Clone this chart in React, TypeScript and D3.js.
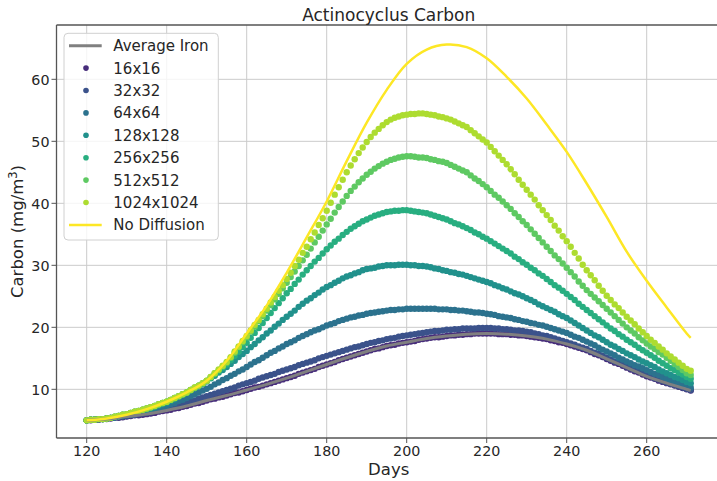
import React from "react";
import * as d3 from "d3";

// ---------- data ----------
const seriesNames = ["16x16", "32x32", "64x64", "128x128", "256x256", "512x512", "1024x1024"];
const xTicks = [120, 140, 160, 180, 200, 220, 240, 260];
const yTicks = [10, 20, 30, 40, 50, 60];

// daily samples, day 120 .. 271
const s16 = [
  5.0, 5.0, 5.1, 5.1, 5.2, 5.2, 5.3, 5.4, 5.4, 5.5, 5.6, 5.7, 5.8, 5.8, 5.9, 6.0, 6.1, 6.2, 6.4, 6.5,
  6.6, 6.7, 6.9, 7.0, 7.2, 7.3, 7.5, 7.7, 7.8, 8.0, 8.2, 8.4, 8.5, 8.7, 8.8, 9.0, 9.2, 9.4, 9.5, 9.7,
  9.9, 10.1, 10.3, 10.4, 10.6, 10.8, 11.0, 11.2, 11.4, 11.6, 11.8, 12.0, 12.2, 12.5, 12.7, 12.9, 13.1, 13.3, 13.6, 13.8,
  14.0, 14.2, 14.4, 14.7, 14.9, 15.1, 15.3, 15.5, 15.7, 15.9, 16.1, 16.3, 16.5, 16.6, 16.8, 17.0, 17.1, 17.2, 17.4, 17.5,
  17.6, 17.7, 17.8, 18.0, 18.1, 18.2, 18.3, 18.4, 18.4, 18.5, 18.6, 18.7, 18.7, 18.8, 18.8, 18.9, 18.9, 19.0, 19.0, 19.0,
  19.0, 19.0, 19.0, 18.9, 18.9, 18.9, 18.8, 18.8, 18.7, 18.7, 18.6, 18.5, 18.4, 18.3, 18.2, 18.1, 17.9, 17.8, 17.6, 17.5,
  17.3, 17.1, 16.9, 16.7, 16.5, 16.3, 16.0, 15.7, 15.5, 15.2, 14.9, 14.6, 14.3, 14.1, 13.8, 13.5, 13.2, 12.9, 12.7, 12.4,
  12.1, 11.9, 11.7, 11.4, 11.2, 11.0, 10.8, 10.6, 10.4, 10.2, 10.0, 9.8,
];
const s32 = [
  5.0, 5.1, 5.1, 5.2, 5.2, 5.3, 5.4, 5.5, 5.5, 5.6, 5.7, 5.8, 5.9, 6.0, 6.1, 6.2, 6.3, 6.5, 6.6, 6.8,
  6.9, 7.1, 7.3, 7.4, 7.6, 7.8, 8.0, 8.2, 8.5, 8.7, 8.9, 9.1, 9.3, 9.5, 9.7, 9.9, 10.1, 10.3, 10.6, 10.8,
  11.0, 11.2, 11.4, 11.7, 11.9, 12.1, 12.3, 12.5, 12.8, 13.0, 13.2, 13.4, 13.6, 13.9, 14.1, 14.3, 14.5, 14.7, 15.0, 15.2,
  15.4, 15.6, 15.8, 16.0, 16.2, 16.4, 16.6, 16.8, 16.9, 17.1, 17.3, 17.5, 17.6, 17.8, 17.9, 18.1, 18.2, 18.3, 18.5, 18.6,
  18.7, 18.8, 18.9, 19.0, 19.1, 19.2, 19.3, 19.4, 19.4, 19.5, 19.6, 19.6, 19.7, 19.7, 19.8, 19.8, 19.8, 19.8, 19.9, 19.9,
  19.9, 19.9, 19.8, 19.8, 19.7, 19.7, 19.6, 19.5, 19.5, 19.4, 19.3, 19.2, 19.0, 18.9, 18.7, 18.6, 18.4, 18.2, 18.0, 17.8,
  17.6, 17.4, 17.2, 16.9, 16.7, 16.5, 16.2, 15.9, 15.7, 15.4, 15.1, 14.8, 14.5, 14.3, 14.0, 13.7, 13.4, 13.1, 12.9, 12.6,
  12.3, 12.1, 11.8, 11.6, 11.3, 11.1, 10.9, 10.7, 10.5, 10.3, 10.1, 9.9,
];
const s64 = [
  5.0, 5.1, 5.1, 5.2, 5.2, 5.3, 5.4, 5.5, 5.6, 5.7, 5.8, 5.9, 6.0, 6.2, 6.3, 6.4, 6.6, 6.8, 6.9, 7.1,
  7.3, 7.6, 7.8, 8.1, 8.3, 8.6, 8.9, 9.2, 9.5, 9.8, 10.1, 10.4, 10.8, 11.1, 11.5, 11.8, 12.2, 12.5, 12.9, 13.2,
  13.6, 14.0, 14.4, 14.7, 15.1, 15.5, 15.9, 16.2, 16.6, 16.9, 17.3, 17.6, 17.9, 18.3, 18.6, 18.9, 19.2, 19.5, 19.7, 20.0,
  20.3, 20.5, 20.7, 21.0, 21.2, 21.4, 21.6, 21.7, 21.9, 22.0, 22.2, 22.3, 22.4, 22.5, 22.6, 22.7, 22.8, 22.8, 22.9, 22.9,
  23.0, 23.0, 23.0, 23.0, 23.0, 23.0, 23.0, 23.0, 22.9, 22.9, 22.9, 22.8, 22.8, 22.7, 22.7, 22.6, 22.5, 22.4, 22.4, 22.3,
  22.2, 22.1, 22.0, 21.8, 21.7, 21.6, 21.5, 21.3, 21.2, 21.0, 20.9, 20.7, 20.6, 20.4, 20.3, 20.1, 19.9, 19.7, 19.5, 19.3,
  19.1, 18.8, 18.5, 18.3, 18.0, 17.7, 17.4, 17.1, 16.7, 16.4, 16.1, 15.8, 15.5, 15.1, 14.8, 14.5, 14.2, 13.9, 13.7, 13.4,
  13.1, 12.8, 12.5, 12.3, 12.0, 11.7, 11.5, 11.2, 11.0, 10.7, 10.5, 10.3,
];
const s128 = [
  5.0, 5.1, 5.1, 5.2, 5.2, 5.3, 5.4, 5.5, 5.7, 5.8, 5.9, 6.1, 6.2, 6.4, 6.5, 6.7, 6.9, 7.1, 7.4, 7.6,
  7.8, 8.1, 8.4, 8.8, 9.1, 9.4, 9.8, 10.2, 10.5, 10.9, 11.3, 11.8, 12.2, 12.7, 13.1, 13.6, 14.1, 14.6, 15.2, 15.7,
  16.2, 16.8, 17.3, 17.9, 18.4, 19.0, 19.5, 20.1, 20.6, 21.2, 21.7, 22.2, 22.7, 23.3, 23.8, 24.3, 24.7, 25.2, 25.6, 26.1,
  26.5, 26.8, 27.2, 27.5, 27.9, 28.2, 28.4, 28.7, 28.9, 29.2, 29.4, 29.5, 29.6, 29.8, 29.9, 30.0, 30.0, 30.0, 30.1, 30.1,
  30.1, 30.0, 30.0, 29.9, 29.9, 29.8, 29.7, 29.5, 29.4, 29.2, 29.1, 28.9, 28.8, 28.6, 28.5, 28.3, 28.1, 27.9, 27.7, 27.5,
  27.3, 27.1, 26.8, 26.6, 26.3, 26.1, 25.8, 25.5, 25.3, 25.0, 24.7, 24.4, 24.1, 23.7, 23.4, 23.1, 22.8, 22.5, 22.1, 21.8,
  21.5, 21.1, 20.7, 20.3, 19.9, 19.5, 19.1, 18.7, 18.4, 18.0, 17.6, 17.2, 16.9, 16.5, 16.2, 15.8, 15.5, 15.2, 14.8, 14.5,
  14.2, 13.9, 13.6, 13.2, 12.9, 12.6, 12.3, 12.0, 11.8, 11.5, 11.2, 11.0,
];
const s256 = [
  5.0, 5.1, 5.1, 5.2, 5.2, 5.3, 5.4, 5.6, 5.7, 5.9, 6.0, 6.2, 6.4, 6.5, 6.7, 6.9, 7.1, 7.3, 7.6, 7.8,
  8.0, 8.3, 8.6, 8.9, 9.2, 9.5, 9.9, 10.2, 10.6, 10.9, 11.3, 11.8, 12.4, 12.9, 13.5, 14.0, 14.7, 15.4, 16.1, 16.8,
  17.5, 18.3, 19.1, 19.9, 20.7, 21.5, 22.3, 23.1, 23.9, 24.7, 25.5, 26.2, 27.0, 27.7, 28.5, 29.2, 29.9, 30.6, 31.2, 31.9,
  32.6, 33.2, 33.8, 34.3, 34.9, 35.4, 35.9, 36.3, 36.7, 37.1, 37.4, 37.7, 38.0, 38.2, 38.4, 38.6, 38.7, 38.8, 38.8, 38.9,
  38.9, 38.8, 38.7, 38.6, 38.5, 38.4, 38.2, 38.0, 37.8, 37.6, 37.4, 37.1, 36.8, 36.6, 36.3, 36.0, 35.7, 35.3, 35.0, 34.6,
  34.3, 33.9, 33.5, 33.1, 32.7, 32.3, 31.9, 31.4, 31.0, 30.5, 30.1, 29.6, 29.2, 28.7, 28.3, 27.8, 27.3, 26.8, 26.4, 25.9,
  25.4, 24.9, 24.4, 23.8, 23.3, 22.8, 22.3, 21.8, 21.3, 20.8, 20.3, 19.8, 19.4, 18.9, 18.5, 18.0, 17.6, 17.2, 16.7, 16.3,
  15.9, 15.5, 15.1, 14.6, 14.2, 13.8, 13.4, 13.1, 12.7, 12.4, 12.0, 11.7,
];
const s512 = [
  5.0, 5.1, 5.1, 5.2, 5.2, 5.3, 5.4, 5.6, 5.7, 5.9, 6.0, 6.2, 6.4, 6.5, 6.7, 6.9, 7.1, 7.3, 7.6, 7.8,
  8.0, 8.3, 8.6, 8.9, 9.2, 9.5, 9.9, 10.3, 10.6, 11.0, 11.4, 12.0, 12.6, 13.1, 13.7, 14.3, 15.1, 15.9, 16.8, 17.6,
  18.4, 19.3, 20.1, 21.0, 21.8, 22.7, 23.6, 24.5, 25.4, 26.3, 27.2, 28.1, 29.0, 29.9, 30.8, 31.7, 32.7, 33.7, 34.6, 35.6,
  36.6, 37.5, 38.5, 39.4, 40.3, 41.2, 42.0, 42.7, 43.4, 44.0, 44.6, 45.1, 45.6, 46.0, 46.4, 46.7, 47.0, 47.2, 47.4, 47.5,
  47.6, 47.6, 47.5, 47.4, 47.4, 47.3, 47.1, 47.0, 46.8, 46.7, 46.5, 46.2, 45.9, 45.6, 45.3, 45.0, 44.5, 44.0, 43.6, 43.1,
  42.6, 42.0, 41.4, 40.9, 40.3, 39.7, 39.1, 38.4, 37.8, 37.1, 36.5, 35.8, 35.1, 34.4, 33.7, 33.0, 32.3, 31.6, 31.0, 30.3,
  29.6, 28.9, 28.2, 27.4, 26.7, 26.0, 25.4, 24.8, 24.2, 23.6, 23.0, 22.4, 21.8, 21.2, 20.6, 20.0, 19.5, 19.0, 18.4, 17.9,
  17.4, 16.9, 16.5, 16.0, 15.6, 15.1, 14.6, 14.1, 13.6, 13.1, 12.6, 12.3,
];
const s1024 = [
  5.0, 5.1, 5.1, 5.2, 5.2, 5.3, 5.4, 5.6, 5.7, 5.9, 6.0, 6.2, 6.4, 6.5, 6.7, 6.9, 7.1, 7.3, 7.6, 7.8,
  8.0, 8.3, 8.6, 8.9, 9.2, 9.5, 9.9, 10.3, 10.6, 11.0, 11.4, 12.0, 12.6, 13.2, 13.8, 14.4, 15.2, 16.1, 16.9, 17.8,
  18.6, 19.5, 20.4, 21.2, 22.1, 23.0, 24.0, 24.9, 25.9, 26.8, 27.8, 28.8, 29.9, 30.9, 32.0, 33.0, 34.2, 35.3, 36.5, 37.6,
  38.8, 40.1, 41.4, 42.6, 43.8, 45.0, 46.1, 47.1, 48.1, 49.0, 49.9, 50.7, 51.4, 52.0, 52.6, 53.1, 53.5, 53.8, 54.0, 54.2,
  54.3, 54.4, 54.4, 54.5, 54.5, 54.4, 54.3, 54.2, 54.0, 53.9, 53.7, 53.5, 53.2, 52.9, 52.6, 52.3, 51.8, 51.3, 50.8, 50.3,
  49.8, 49.1, 48.4, 47.7, 47.0, 46.3, 45.5, 44.7, 43.8, 43.0, 42.2, 41.4, 40.6, 39.7, 38.9, 38.1, 37.3, 36.4, 35.6, 34.7,
  33.9, 33.0, 32.0, 31.1, 30.1, 29.2, 28.4, 27.6, 26.7, 25.9, 25.1, 24.4, 23.7, 23.1, 22.4, 21.7, 21.1, 20.5, 19.8, 19.2,
  18.6, 18.0, 17.5, 16.9, 16.4, 15.8, 15.3, 14.8, 14.3, 13.8, 13.3, 13.0,
];

// line series, sampled every 5 days (plus day 271)
const lineDays = [120, 125, 130, 135, 140, 145, 150, 155, 160, 165, 170, 175, 180, 185, 190, 195, 200, 205, 210, 215, 220, 225, 230, 235, 240, 245, 250, 255, 260, 265, 270, 271];
const averageIron = [5.0, 5.2, 5.6, 6.0, 6.6, 7.3, 8.2, 9.0, 9.9, 10.8, 11.8, 12.9, 14.0, 15.1, 16.1, 17.0, 17.6, 18.2, 18.6, 18.9, 19.0, 18.9, 18.6, 18.1, 17.3, 16.3, 14.9, 13.5, 12.1, 11.0, 10.0, 9.8];
const noDiffusion = [5.0, 5.3, 5.9, 6.8, 8.0, 9.5, 11.4, 14.6, 19.0, 23.5, 28.8, 34.5, 40.3, 46.8, 53.0, 58.3, 62.5, 64.8, 65.6, 65.2, 63.4, 60.4, 56.9, 52.7, 48.3, 43.2, 37.8, 32.2, 27.5, 23.2, 19.0, 18.3];

const scatterSeries = [s16, s32, s64, s128, s256, s512, s1024];
const days = s16.map((_, i) => 120 + i);

// ---------- layout ----------
const W = 717;
const H = 481;
const L = 56.5, R = 720.9, T = 25, B = 438;
const FONT = "'DejaVu Sans', sans-serif";
const TEXT = "#262626";
const SPINE = "#555";

export default function App() {
  const x = d3.scaleLinear().domain([112.45, 278.55]).range([L, R]);
  const y = d3.scaleLinear().domain([2.15, 68.76]).range([B, T]);
  const colors = seriesNames.map((_, i) => d3.interpolateViridis((i + 1) / 8));
  const yellow = d3.interpolateViridis(1);
  const gray = "#808080";

  const line = d3
    .line<number>()
    .x((_, i) => x(lineDays[i]))
    .y((v) => y(v))
    .curve(d3.curveCatmullRom.alpha(0.5));

  const legendItems = [
    { label: "Average Iron", kind: "line", color: gray },
    ...seriesNames.map((n, i) => ({ label: n, kind: "dot", color: colors[i] })),
    { label: "No Diffusion", kind: "line", color: yellow },
  ];

  return (
    <svg
      width={W}
      height={H}
      style={{ position: "absolute", left: 0, top: 0, background: "#fff" }}
      fontFamily={FONT}
    >
      <defs>
        <clipPath id="plot">
          <rect x={L} y={T} width={R - L} height={B - T} />
        </clipPath>
      </defs>
      {/* grid */}
      <g stroke="#cbcbcb" strokeWidth={1}>
        {xTicks.map((t) => (
          <line key={"gx" + t} x1={x(t)} x2={x(t)} y1={T} y2={B} />
        ))}
        {yTicks.map((t) => (
          <line key={"gy" + t} x1={L} x2={R} y1={y(t)} y2={y(t)} />
        ))}
      </g>
      {/* data */}
      <g clipPath="url(#plot)">
        {scatterSeries.map((s, si) => (
          <g key={"s" + si} fill={colors[si]}>
            {s.map((v, i) => (
              <circle key={i} cx={x(days[i])} cy={y(v)} r={3.2} />
            ))}
          </g>
        ))}
        <path d={line(averageIron) || ""} fill="none" stroke={gray} strokeWidth={3} />
        <path d={line(noDiffusion) || ""} fill="none" stroke={yellow} strokeWidth={2.5} />
      </g>
      {/* spines */}
      <g stroke={SPINE} strokeWidth={1.3}>
        <line x1={L} x2={L} y1={T} y2={B} />
        <line x1={L} x2={R} y1={B} y2={B} />
        <line x1={L} x2={R} y1={T} y2={T} />
      </g>
      {/* ticks */}
      <g stroke={SPINE} strokeWidth={1}>
        {xTicks.map((t) => (
          <line key={"tx" + t} x1={x(t)} x2={x(t)} y1={B} y2={B + 5} />
        ))}
        {yTicks.map((t) => (
          <line key={"ty" + t} x1={L - 5} x2={L} y1={y(t)} y2={y(t)} />
        ))}
      </g>
      <g fill={TEXT} fontSize={14.3}>
        {xTicks.map((t) => (
          <text key={"lx" + t} x={x(t)} y={456} textAnchor="middle">
            {t}
          </text>
        ))}
        {yTicks.map((t) => (
          <text key={"ly" + t} x={49.5} y={y(t) + 5.2} textAnchor="end">
            {t}
          </text>
        ))}
      </g>
      {/* labels */}
      <text x={(L + R) / 2} y={20.7} textAnchor="middle" fontSize={17} fill={TEXT}>
        Actinocyclus Carbon
      </text>
      <text x={(L + R) / 2} y={475} textAnchor="middle" fontSize={16.5} fill={TEXT}>
        Days
      </text>
      <text
        transform={`translate(23,${(T + B) / 2}) rotate(-90)`}
        textAnchor="middle"
        fontSize={16.5}
        fill={TEXT}
      >
        Carbon (mg/m
        <tspan fontSize={11.5} dy={-6.5}>
          3
        </tspan>
        <tspan dy={6.5}>)</tspan>
      </text>
      {/* legend */}
      <g>
        <rect x={64} y={33.3} width={154.3} height={206.7} rx={4} fill="#fff" fillOpacity={0.8} stroke="#d0d0d0" />
        {legendItems.map((it, i) => {
          const cy = 45.7 + i * 22.4;
          return (
            <g key={"lg" + i}>
              {it.kind === "line" ? (
                <line x1={69} x2={101.7} y1={cy} y2={cy} stroke={it.color} strokeWidth={it.color === gray ? 3 : 2.5} />
              ) : (
                <circle cx={86} cy={cy} r={2.8} fill={it.color} />
              )}
              <text x={113.3} y={cy + 5.4} fontSize={15} fill={TEXT}>
                {it.label}
              </text>
            </g>
          );
        })}
      </g>
    </svg>
  );
}
